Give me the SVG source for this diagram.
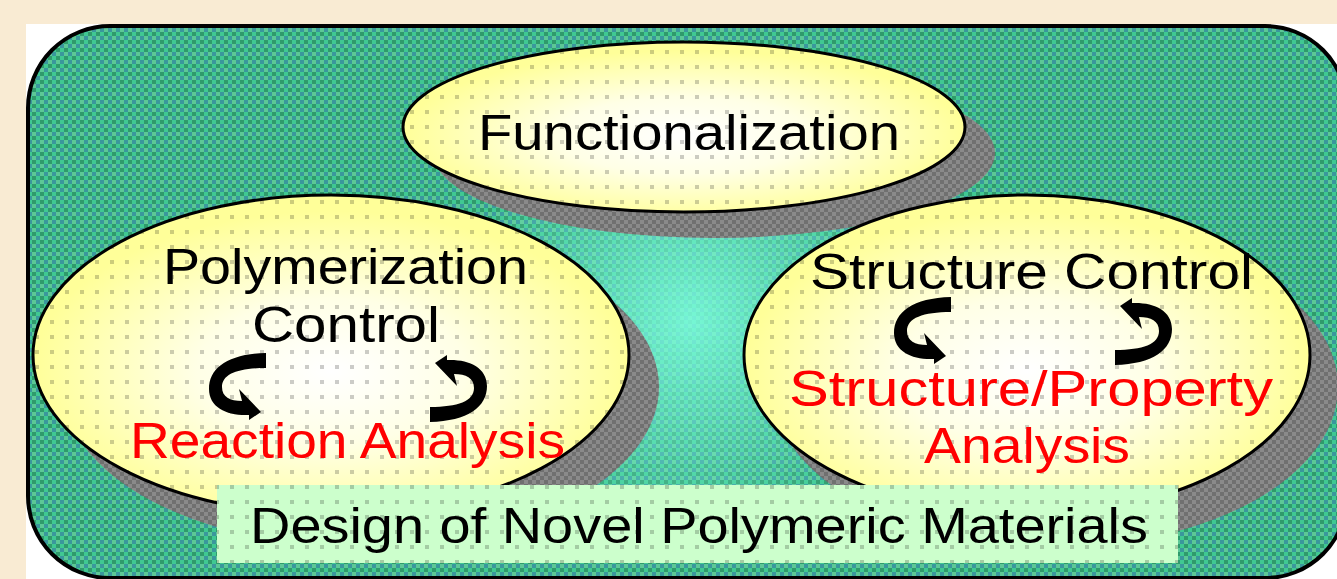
<svg xmlns="http://www.w3.org/2000/svg" width="1337" height="579" viewBox="0 0 1337 579">
<style>
.lbl{font-family:"Liberation Sans","DejaVu Sans",Arial,sans-serif;font-size:50px;fill:#000}
.red{fill:#ff0000}
.ell{stroke:#000;stroke-width:3}
.arrow{fill:#000}
</style>
<defs>
<pattern id="green" width="8" height="8" patternUnits="userSpaceOnUse">
<rect width="8" height="8" fill="#3aae84"/>
<rect width="4" height="4" fill="#2f9a6c"/>
<rect x="4" width="4" height="4" fill="#40c892"/>
<rect y="4" width="4" height="4" fill="#5cc896"/>
<rect x="4" y="4" width="4" height="4" fill="#3a979c"/>
</pattern>
<pattern id="gray" width="8" height="8" patternUnits="userSpaceOnUse">
<rect width="8" height="8" fill="#8a8a8a"/>
<rect width="4" height="4" fill="#707070"/>
<rect x="4" y="4" width="4" height="4" fill="#707070"/>
</pattern>
<pattern id="dots" width="15" height="15" patternUnits="userSpaceOnUse">
<rect x="5" y="5" width="4" height="4" fill="#000" fill-opacity="0.2"/>
</pattern>
<radialGradient id="yel" cx="0.5" cy="0.55" r="0.5">
<stop offset="0" stop-color="#ffffff"/>
<stop offset="0.45" stop-color="#ffffe6"/>
<stop offset="1" stop-color="#ffff99"/>
</radialGradient>
<radialGradient id="glow" gradientUnits="userSpaceOnUse" cx="690" cy="320" r="230">
<stop offset="0" stop-color="#80ffe0" stop-opacity="0.85"/>
<stop offset="1" stop-color="#80ffe0" stop-opacity="0"/>
</radialGradient>
<path id="arr" d="M5,6 L17,-2 L17,3 C38,2 57,10 57,29 C57,50 38,64 0,65 L0,50 C28,50 44,44 44,31 C44,21 36,17 24,17 L27,29 Z"/>
</defs>

<rect width="1337" height="579" fill="#f9ebd3"/>
<rect x="26" y="24" width="1311" height="555" fill="#ffffff"/>

<g id="background">
<rect x="28" y="26" width="1319" height="552" rx="82" ry="82" fill="url(#green)" stroke="#000" stroke-width="4"/>
<rect x="30" y="28" width="1315" height="548" rx="80" ry="80" fill="url(#glow)"/>
</g>

<g id="functionalization">
<ellipse cx="714" cy="153" rx="281" ry="85" fill="url(#gray)"/>
<ellipse class="ell" cx="684" cy="127" rx="281" ry="85" fill="url(#yel)"/>
<ellipse cx="684" cy="127" rx="280" ry="84" fill="url(#dots)"/>
<text class="lbl" x="478" y="150" textLength="422" lengthAdjust="spacingAndGlyphs">Functionalization</text>
</g>

<g id="polymerization-control">
<ellipse cx="361" cy="387" rx="298" ry="160" fill="url(#gray)"/>
<ellipse class="ell" cx="331" cy="355" rx="298" ry="160" fill="url(#yel)"/>
<ellipse cx="331" cy="355" rx="297" ry="159" fill="url(#dots)"/>
<text class="lbl" x="163" y="284" textLength="365" lengthAdjust="spacingAndGlyphs">Polymerization</text>
<text class="lbl" x="252" y="342" textLength="188" lengthAdjust="spacingAndGlyphs">Control</text>
<text class="lbl red" x="130" y="458" textLength="435" lengthAdjust="spacingAndGlyphs">Reaction Analysis</text>
</g>

<g id="structure-control">
<ellipse cx="1055" cy="387" rx="283" ry="160" fill="url(#gray)"/>
<ellipse class="ell" cx="1027" cy="355" rx="283" ry="160" fill="url(#yel)"/>
<ellipse cx="1027" cy="355" rx="282" ry="159" fill="url(#dots)"/>
<text class="lbl" x="810" y="289" textLength="443" lengthAdjust="spacingAndGlyphs">Structure Control</text>
<text class="lbl red" x="789" y="406" textLength="484" lengthAdjust="spacingAndGlyphs">Structure/Property</text>
<text class="lbl red" x="924" y="463" textLength="206" lengthAdjust="spacingAndGlyphs">Analysis</text>
</g>

<g id="connectors">
<use href="#arr" class="arrow" transform="translate(266,418) rotate(180)"/>
<use href="#arr" class="arrow" transform="translate(430,357)"/>
<use href="#arr" class="arrow" transform="translate(951,362) rotate(180)"/>
<use href="#arr" class="arrow" transform="translate(1115,300)"/>
</g>

<g id="design-label">
<rect x="217" y="485" width="961" height="78" fill="#ccffcc"/>
<rect x="217" y="485" width="961" height="78" fill="url(#dots)"/>
<text class="lbl" x="250" y="543" textLength="898" lengthAdjust="spacingAndGlyphs">Design of Novel Polymeric Materials</text>
</g>
</svg>
